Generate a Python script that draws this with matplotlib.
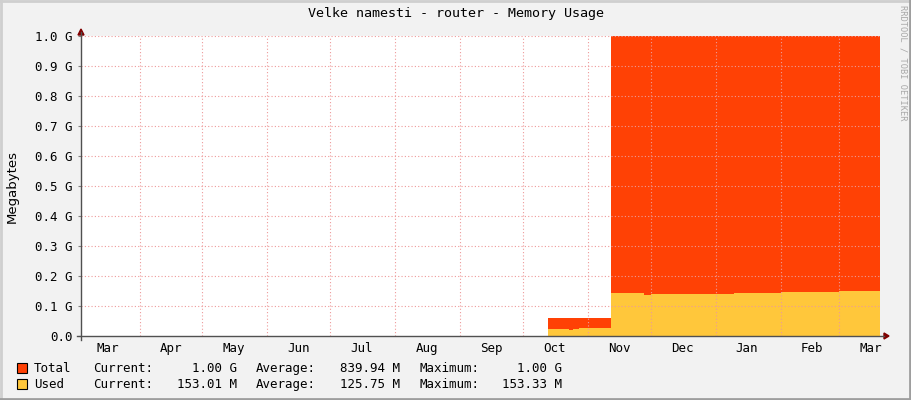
import datetime as dt
import matplotlib
matplotlib.use("Agg")
import matplotlib.pyplot as plt
from matplotlib.patches import Rectangle

# data (values in G)
dates = ['2013-10-13', '2013-10-23', '2013-10-25', '2013-10-28', '2013-11-12',
         '2013-11-28', '2013-12-01', '2013-12-08', '2013-12-20', '2014-01-10',
         '2014-02-01', '2014-02-12', '2014-03-01', '2014-03-20']
total = [0.061, 0.061, 0.061, 0.061, 1.0,
         1.0, 1.0, 1.0, 1.0, 1.0,
         1.0, 1.0, 1.0, 1.0]
used = [0.023, 0.021, 0.023, 0.027, 0.142,
        0.137, 0.141, 0.139, 0.141, 0.143,
        0.145, 0.148, 0.149, 0.150]

months = ['Mar', 'Apr', 'May', 'Jun', 'Jul', 'Aug', 'Sep', 'Oct', 'Nov', 'Dec', 'Jan', 'Feb', 'Mar']
y_ticks = [0.0, 0.1, 0.2, 0.3, 0.4, 0.5, 0.6, 0.7, 0.8, 0.9, 1.0]
y_labels = ['0.0', '0.1 G', '0.2 G', '0.3 G', '0.4 G', '0.5 G', '0.6 G', '0.7 G', '0.8 G', '0.9 G', '1.0 G']

legend_rows = [
    ('Total', '#FF4105', '1.00 G', '839.94 M', '1.00 G'),
    ('Used', '#FFC73B', '153.01 M', '125.75 M', '153.33 M'),
]

x_start = dt.datetime(2013, 3, 4)
x_end = dt.datetime(2014, 3, 20, 12)

W, H = 911, 400
MONO = 'DejaVu Sans Mono'
BG = '#F2F2F2'
FS = 9

fig = plt.figure(figsize=(W / 100, H / 100), dpi=100, facecolor=BG)

def fx(px):
    return px / W

def fy(py):
    return 1 - py / H

# plot area in pixels
L, R, T, B = 81, 880, 36, 336
ax = fig.add_axes([fx(L), fy(B), fx(R - L), (B - T) / H])
ax.set_facecolor('white')

d = [dt.datetime.strptime(s, '%Y-%m-%d') for s in dates]
d_ext = d + [x_end]
ax.fill_between(d_ext, 0, total + [total[-1]], step='post', color='#FF4105', linewidth=0)
ax.fill_between(d_ext, 0, used + [used[-1]], step='post', color='#FFC73B', linewidth=0)

ax.set_xlim(x_start, x_end)
ax.set_ylim(0, 1.0)

grid_col = '#EE9A9A'
month_starts = [dt.datetime(2013 + (3 + i) // 12, (3 + i) % 12 + 1, 1) for i in range(12)]
for m in month_starts:
    ax.axvline(m, color=grid_col, linestyle=(0, (1, 2)), linewidth=0.8, zorder=3)
for yv in y_ticks[1:]:
    ax.axhline(yv, color=grid_col, linestyle=(0, (1, 2)), linewidth=0.8, zorder=3)

label_pos = [dt.datetime(2013, 3, 17)] + [dt.datetime(2013 + (3 + i) // 12, (3 + i) % 12 + 1, 16) for i in range(12)]
ax.set_xticks(label_pos)
ax.set_xticklabels(months, fontfamily=MONO, fontsize=FS)
ax.set_yticks(y_ticks)
ax.set_yticklabels(y_labels, fontfamily=MONO, fontsize=FS)
ax.tick_params(axis='x', length=0, pad=4)
ax.tick_params(axis='y', length=2, width=0.8, color='#808080', pad=4)
for s in ax.spines.values():
    s.set_visible(False)

# axis lines with arrows
axis_col = '#505050'
arrow_col = '#800000'
fig.add_artist(plt.Line2D([fx(77), fx(884)], [fy(B), fy(B)], color=axis_col, linewidth=1))
fig.add_artist(plt.Line2D([fx(L), fx(L)], [fy(340), fy(32)], color=axis_col, linewidth=1))
fig.add_artist(plt.Polygon([[fx(884), fy(B - 3)], [fx(889), fy(B)], [fx(884), fy(B + 3)]],
                           closed=True, color=arrow_col))
fig.add_artist(plt.Polygon([[fx(L - 3), fy(35)], [fx(L), fy(29)], [fx(L + 3), fy(35)]],
                           closed=True, color=arrow_col))

fig.text(fx(456), fy(14), 'Velke namesti - router - Memory Usage', family=MONO,
         fontsize=9.6, ha='center', va='center', color='black')
fig.text(fx(12), fy(186), 'Megabytes', fontsize=9.5, rotation=90, ha='center', va='center')
fig.text(fx(903), fy(5), 'RRDTOOL / TOBI OETIKER', family=MONO, fontsize=6.2,
         rotation=270, ha='center', va='top', color='#A8A8A8')

# legend
for i, (name, col, cur, avg, mx) in enumerate(legend_rows):
    yc = 368 + i * 16
    fig.add_artist(Rectangle((fx(17), fy(yc + 5)), fx(10), 10 / H, facecolor=col,
                             edgecolor='black', linewidth=0.8))
    kw = dict(family=MONO, fontsize=FS, va='baseline')
    yb = fy(yc + 4)
    fig.text(fx(34), yb, name, ha='left', **kw)
    fig.text(fx(93), yb, 'Current:', ha='left', **kw)
    fig.text(fx(237), yb, cur, ha='right', **kw)
    fig.text(fx(256), yb, 'Average:', ha='left', **kw)
    fig.text(fx(400), yb, avg, ha='right', **kw)
    fig.text(fx(419), yb, 'Maximum:', ha='left', **kw)
    fig.text(fx(562), yb, mx, ha='right', **kw)

# image border shading
fig.add_artist(plt.Line2D([0, 1], [fy(1), fy(1)], color='#CFCFCF', linewidth=2))
fig.add_artist(plt.Line2D([fx(1), fx(1)], [0, 1], color='#CFCFCF', linewidth=2))
fig.add_artist(plt.Line2D([0, 1], [fy(399), fy(399)], color='#9E9E9E', linewidth=2))
fig.add_artist(plt.Line2D([fx(910), fx(910)], [0, 1], color='#9E9E9E', linewidth=2))

fig.savefig('out.png', dpi=100, facecolor=BG)
